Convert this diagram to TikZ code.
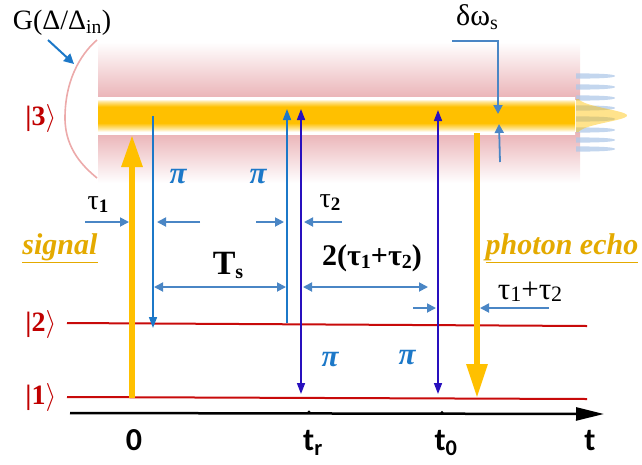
\RequirePackage{fix-cm}
\documentclass[tikz,border=0pt]{standalone}
\usepackage{fontspec}
\setmainfont{Liberation Serif}
\newfontfamily\calib{Carlito}
\usetikzlibrary{arrows.meta}
\definecolor{pinkB}{RGB}{234,178,182}
\definecolor{Yel}{RGB}{255,192,0}
\definecolor{piblue}{RGB}{28,120,200}
\definecolor{dkblue}{RGB}{40,16,190}
\definecolor{dimblue}{RGB}{74,134,197}
\definecolor{lvlred}{RGB}{200,10,10}
\definecolor{ketred}{RGB}{192,0,0}
\definecolor{gold}{RGB}{228,170,0}
\definecolor{gcurve}{RGB}{236,170,170}
\definecolor{comb}{RGB}{175,200,232}
\pgfdeclareverticalshading{yband}{100bp}{color(0bp)=(white); color(25bp)=(white); color(28bp)=(white); color(32bp)=(Yel!40!white); color(40bp)=(Yel); color(62bp)=(Yel); color(69bp)=(Yel!40!white); color(72bp)=(white); color(75bp)=(white); color(100bp)=(white)}
\begin{document}
\begin{tikzpicture}[x=1pt,y=-1pt,
  lvl/.style={draw=lvlred, line width=2pt},
  dimarr/.style={draw=dimblue, line width=1.8pt, -{Triangle[length=9pt,width=9pt]}},
  dimboth/.style={draw=dimblue, line width=1.8pt, {Triangle[length=9pt,width=9pt]}-{Triangle[length=9pt,width=9pt]}},
  piarr/.style={draw=piblue, line width=1.6pt, -{Triangle[length=11pt,width=8pt]}},
  dkarr/.style={draw=dkblue, line width=1.6pt, {Triangle[length=11pt,width=8pt]}-{Triangle[length=11pt,width=8pt]}},
  lab/.style={inner sep=0pt, text=black},
  pilab/.style={inner sep=0pt, text=piblue, font=\fontsize{31}{31}\selectfont\bfseries\itshape},
  ket/.style={inner sep=0pt, text=ketred, font=\fontsize{28}{28}\selectfont\bfseries},
  axlab/.style={inner sep=0pt, font=\calib\fontsize{32}{32}\selectfont\bfseries},
  echolab/.style={inner sep=0pt, text=gold, font=\fontsize{30}{30}\selectfont\bfseries\itshape},
  tooth/.style={fill=comb, opacity=0.75},
]
\useasboundingbox (0,0) rectangle (642,464);
% broadened level |3>
\shade[top color=white, middle color=pinkB!72!white, bottom color=pinkB] (98,42) rectangle (580,99);
\shade[top color=pinkB, middle color=pinkB!80!white, bottom color=white] (98,132) rectangle (580,183);
\shade[shading=yband] (98,97) rectangle (575,134);
% spectral comb
\foreach \yy in {76,87,98,108,119,130,140,149}{
  \fill[tooth] (576,\yy-2.6) .. controls (604,\yy-2.6) and (615,\yy-1.6) .. (615,\yy)
     .. controls (615,\yy+1.6) and (604,\yy+2.6) .. (576,\yy+2.6) -- cycle;
}
\fill[Yel, opacity=0.45] (576,99) -- plot[domain=99:132, samples=40] ({576+51*exp(-((\x-115.5)/9.5)^2)}, \x) -- (576,132) -- cycle;
% inhomogeneous profile
\draw[gcurve, line width=1.6pt] (97,40) .. controls (85,50) and (65,75) .. (65,118) .. controls (65,150) and (85,168) .. (97,178);
\node[lab, font=\fontsize{28}{28}\selectfont] (G) at (62,23) {G(Δ/Δ\textsubscript{in})};
\coordinate (Ga) at (48,40);
\coordinate (Gb) at (74,64);
\draw[piblue, line width=2pt, -{Triangle[length=10pt,width=10pt]}] (Ga) -- (Gb);
% levels
\coordinate (L2a) at (67,323); \coordinate (L2b) at (587,326);
\coordinate (L1a) at (67,397); \coordinate (L1b) at (587,399);
\draw[lvl] (L2a) -- (L2b);
\draw[lvl] (L1a) -- (L1b);
\node[ket] (k3) at (41,118) {|3$\rangle$};
\node[ket] (k2) at (41,324) {|2$\rangle$};
\node[ket] (k1) at (41,397) {|1$\rangle$};
% time axis
\coordinate (ax0) at (70,413); \coordinate (ax1) at (604,414);
\draw[line width=2.5pt, -{Triangle[length=28pt,width=13pt]}] (ax0) -- (ax1);
\fill (309,412) circle[radius=1.6pt];
\fill (442,412.5) circle[radius=1.6pt];
\node[axlab] (t0lab) at (134,440) {0};
\node[axlab] (trlab) at (313,443) {t\textsubscript{r}};
\node[axlab] (tolab) at (446,443) {t\textsubscript{0}};
\node[axlab] (tlab) at (590,441) {t};
% signal and echo
\coordinate (sigA) at (132,398); \coordinate (sigB) at (132,135);
\draw[Yel, line width=6pt, -{Triangle[length=32pt,width=20pt]}] (sigA) -- (sigB);
\coordinate (echA) at (477,133); \coordinate (echB) at (477,398);
\draw[Yel, line width=6pt, -{Triangle[length=34pt,width=20pt]}] (echA) -- (echB);
% pi pulses
\coordinate (p1a) at (153,116); \coordinate (p1b) at (153,328);
\draw[piarr] (p1a) -- (p1b);
\coordinate (p2a) at (287,323); \coordinate (p2b) at (287,109);
\draw[piarr] (p2a) -- (p2b);
\coordinate (d1a) at (301,394); \coordinate (d1b) at (301,109);
\draw[dkarr] (d1a) -- (d1b);
\coordinate (d2a) at (438,394); \coordinate (d2b) at (438,110);
\draw[dkarr] (d2a) -- (d2b);
\node[pilab] (pi1) at (178,177) {π};
\node[pilab] (pi2) at (258,177) {π};
\node[pilab] (pi3) at (330,360) {π};
\node[pilab] (pi4) at (407,358) {π};
% time intervals
\coordinate (a1) at (85,222); \coordinate (a1e) at (129,222);
\draw[dimarr] (a1) -- (a1e);
\coordinate (a2) at (200,222); \coordinate (a2e) at (157,222);
\draw[dimarr] (a2) -- (a2e);
\coordinate (a3) at (256,222); \coordinate (a3e) at (284,222);
\draw[dimarr] (a3) -- (a3e);
\coordinate (a4) at (342,222); \coordinate (a4e) at (304,222);
\draw[dimarr] (a4) -- (a4e);
\coordinate (b1) at (154,287); \coordinate (b1e) at (286,287);
\draw[dimboth] (b1) -- (b1e);
\coordinate (b2) at (303,287); \coordinate (b2e) at (428,287);
\draw[dimboth] (b2) -- (b2e);
\coordinate (c1) at (413,308); \coordinate (c1e) at (436,308);
\draw[dimarr] (c1) -- (c1e);
\coordinate (c2) at (549,308); \coordinate (c2e) at (480,308);
\draw[dimarr] (c2) -- (c2e);
\node[lab, font=\fontsize{28}{28}\selectfont] (tau1) at (98,205) {τ\raisebox{-3pt}{\fontsize{19}{19}\selectfont\bfseries 1}};
\node[lab, font=\fontsize{28}{28}\selectfont] (tau2) at (330,203) {τ\raisebox{-3pt}{\fontsize{19}{19}\selectfont\bfseries 2}};
\node[lab, font=\fontsize{34}{34}\selectfont\bfseries] (Ts) at (228,265) {T\raisebox{-4pt}{\fontsize{20}{20}\selectfont s}};
\node[lab, font=\fontsize{30}{30}\selectfont\bfseries] (dbl) at (372,258) {2(τ\raisebox{-3pt}{\fontsize{20}{20}\selectfont 1}+τ\raisebox{-3pt}{\fontsize{20}{20}\selectfont 2})};
\node[lab, font=\fontsize{31}{31}\selectfont] (sum) at (530,292) {τ\raisebox{-2pt}{\fontsize{22}{22}\selectfont 1}+τ\raisebox{-2pt}{\fontsize{22}{22}\selectfont 2}};
\node[echolab] (sig) at (60,248) {\underline{signal}};
\node[echolab] (echo) at (562,248) {\underline{photon echo}};
% linewidth
\node[lab, font=\fontsize{30}{30}\selectfont] (dw) at (477,17) {δω\raisebox{-4pt}{\fontsize{20}{20}\selectfont s}};
\coordinate (w0) at (452,41); \coordinate (w1) at (498,41); \coordinate (w2) at (498,114);
\draw[dimarr] (w0) -- (w1) -- (w2);
\coordinate (w3) at (500,162); \coordinate (w4) at (499,124);
\draw[dimarr] (w3) -- (w4);
\end{tikzpicture}
\end{document}
